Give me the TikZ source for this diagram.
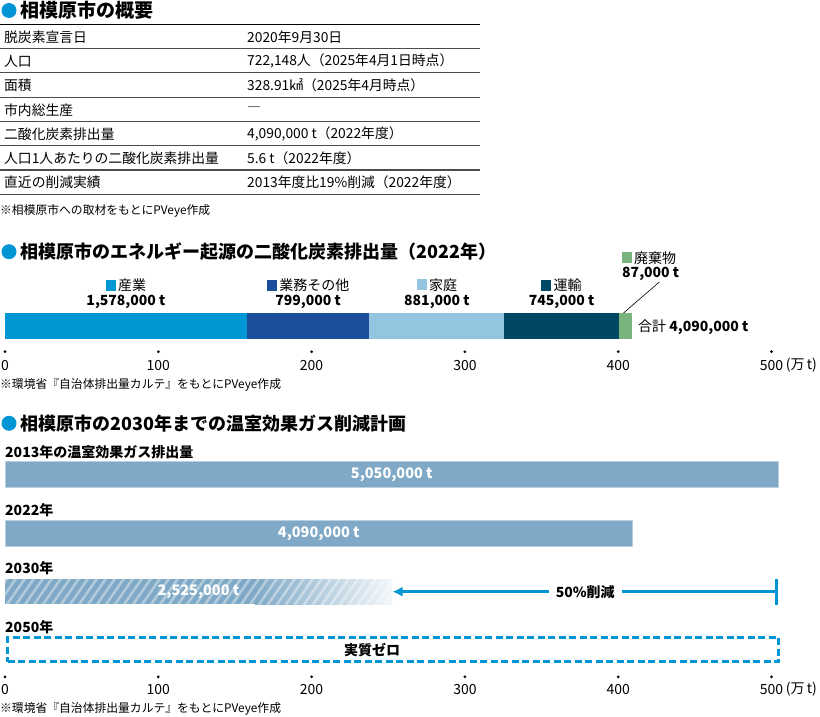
\documentclass[tikz,border=0pt]{standalone}
\usepackage{fontspec}
\setmainfont{Noto Sans CJK JP}
\usetikzlibrary{arrows.meta,positioning}
\definecolor{dot}{RGB}{0,150,214}
\definecolor{c1}{RGB}{0,152,212}
\definecolor{c2}{RGB}{27,79,154}
\definecolor{c3}{RGB}{148,197,224}
\definecolor{c4}{RGB}{0,71,99}
\definecolor{c5}{RGB}{120,180,124}
\definecolor{barblue}{RGB}{127,169,198}
\begin{document}
\begin{tikzpicture}[x=1pt,y=-1pt,
  bullet/.style={circle,fill=dot,inner sep=0,minimum size=15pt},
  ttl/.style={anchor=west,inner sep=0,font=\fontsize{18}{20}\selectfont\bfseries},
  cell/.style={anchor=west,inner sep=0,font=\fontsize{13.8}{16}\selectfont},
  rule/.style={black!70,line width=1.1pt},
  note/.style={anchor=west,inner sep=0,font=\fontsize{11.8}{13}\selectfont},
  leg/.style={inner sep=0,font=\fontsize{14}{16}\selectfont},
  val/.style={inner sep=0,font=\fontsize{14}{16}\selectfont\bfseries},
  tick/.style={circle,fill=black,inner sep=0,minimum size=3pt},
  num/.style={inner sep=0,font=\fontsize{14}{16}\selectfont},
  year/.style={anchor=west,inner sep=0,font=\fontsize{14}{16}\selectfont\bfseries},
  bar/.style={fill=barblue,draw=barblue!55!white,line width=0.6pt,anchor=west,minimum height=25.6pt,inner sep=0},
  inbar/.style={text=white,font=\fontsize{14.5}{16}\selectfont\bfseries}]

\useasboundingbox (0,0) rectangle (820,717);

% overview table
\node[bullet] (b1) at (9,10.5) {};
\node[ttl,font=\fontsize{19}{21}\selectfont\bfseries] (t1) at (20.5,10.5) {相模原市の概要};
\draw[black,line width=1.5pt] (0,24.3) -- (480,24.3);
\foreach \k/\v [count=\i] in {脱炭素宣言日/2020年9月30日,
    人口/{722,148人（2025年4月1日時点）},
    面積/328.91㎢（2025年4月時点）,
    市内総生産/―,
    二酸化炭素排出量/{4,090,000 t（2022年度）},
    人口1人あたりの二酸化炭素排出量/5.6 t（2022年度）,
    直近の削減実績/2013年度比19\%削減（2022年度）}{
  \node[cell] (k\i) at (4,{37+24.29*(\i-1)}) {\k};
  \node[cell] (v\i) at (247,{37+24.29*(\i-1)}) {\v};
  \draw[rule] (0,{24.3+24.29*\i}) -- (480,{24.3+24.29*\i});
}
\node[note] (n1) at (0,211) {※相模原市への取材をもとにPVeye作成};

% emissions by sector
\node[bullet] (b2) at (9,251.7) {};
\node[ttl] (t2) at (20.5,251.7) {相模原市のエネルギー起源の二酸化炭素排出量（2022年）};
\foreach \a/\b/\c/\n/\w [count=\i] in {0/157.8/c1/産業/{1,578,000 t},
    157.8/237.7/c2/業務その他/{799,000 t},
    237.7/325.8/c3/家庭/{881,000 t},
    325.8/400.3/c4/運輸/{745,000 t}}{
  \fill[\c] ({5+1.533*\a},313) rectangle ({5+1.533*\b},339);
  \node[leg] (w\i) at ({5+1.533*(\a+\b)/2},285) {\textcolor{\c}{\rule[-0.2pt]{10pt}{11pt}}\,\n};
  \node[val] (w\i v) at ({5+1.533*(\a+\b)/2},302) {\w};
}
\fill[c5] (618.7,313) rectangle (632,339);
\node[leg,anchor=west] (w5) at (621.7,258) {\textcolor{c5}{\rule[-0.2pt]{10pt}{11pt}}\,廃棄物};
\node[val,anchor=west] (w5v) at (622,273.5) {87,000 t};
\coordinate (lead) at (623.5,313);
\draw[line width=0.6pt] (w5v.south east) ++(-20,1.5) -- (lead);
\node[leg,anchor=west] (sum) at (638,327) {合計 \textbf{4,090,000 t}};
\foreach \v [count=\i] in {0,100,...,500}{
  \node[tick] (d\i) at ({5+1.533*\v},351.7) {};
  \node[num,below=6.5pt of d\i] (a\i) {\v};
}
\node[num,right=0pt of a6] (u1) {\,(万\,t)};
\node[note] (n2) at (0,385) {※環境省『自治体排出量カルテ』をもとにPVeye作成};

% reduction plan
\node[bullet] (b3) at (9,423.3) {};
\node[ttl] (t3) at (20.5,423.3) {相模原市の2030年までの温室効果ガス削減計画};
\node[year] (y1) at (5,451.7) {2013年の温室効果ガス排出量};
\node[bar,minimum width=773pt,inbar] (r1) at (5,474.5) {5,050,000 t};
\node[year] (y2) at (5,510.5) {2022年};
\node[bar,minimum width=627pt,inbar] (r2) at (5,533.3) {4,090,000 t};
\node[year] (y3) at (5,568.5) {2030年};
\fill[barblue] (5,579) rectangle (255,604.3);
\shade[left color=barblue,right color=barblue!10] (255,579) rectangle (392,604.3);
\begin{scope}
  \clip (5,579) rectangle (392,604.3);
  \foreach \s in {-30,-21,...,400}
    \draw[white,opacity=0.4,line width=2.5pt] (\s,606) -- (\s+20,577);
\end{scope}
\node[inbar] (r3) at (198.5,591.7) {2,525,000 t};
\coordinate (ar) at (778,591.7);
\coordinate (al) at (392.5,591.7);
\draw[dot,line width=3pt,{Bar[width=26pt,line width=3pt]}-{Latex[length=10pt,width=10pt]}] (ar) -- node[fill=white,text=black,font=\fontsize{14}{16}\selectfont\bfseries,inner xsep=7pt] (cut) {50\%削減} (al);
\node[year] (y4) at (5,627) {2050年};
\node[draw=dot,line width=2.7pt,dash pattern=on 7pt off 3.5pt,anchor=west,minimum width=771pt,minimum height=24pt,inner sep=0] (r4) at (6.3,649.7) {};
\node[val] (zero) at (372,650) {実質ゼロ};
\foreach \v [count=\i] in {0,100,...,500}{
  \node[tick] (e\i) at ({5+1.533*\v},676.8) {};
  \node[num,below=5.5pt of e\i] (c\i) {\v};
}
\node[num,right=0pt of c6] (u2) {\,(万\,t)};
\node[note] (n3) at (0,709) {※環境省『自治体排出量カルテ』をもとにPVeye作成};
\end{tikzpicture}
\end{document}
